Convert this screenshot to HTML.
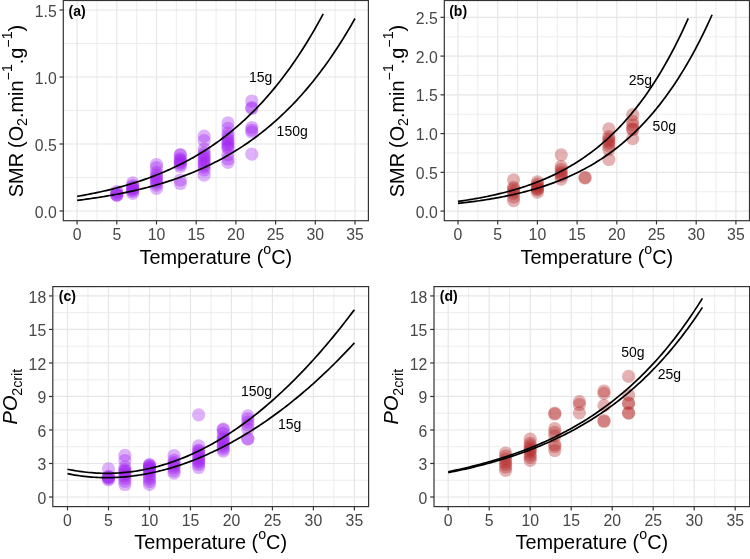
<!DOCTYPE html>
<html><head><meta charset="utf-8"><style>
html,body{margin:0;padding:0;background:#fff;}
svg{display:block;font-family:"Liberation Sans", sans-serif;will-change:transform;}
</style></head><body>
<svg width="750" height="559" viewBox="0 0 750 559">
<rect width="750" height="559" fill="#fff"/>
<rect x="63.3" y="0.5" width="305.09999999999997" height="220.2" fill="#fff"/>
<line x1="96.95" y1="0.5" x2="96.95" y2="220.7" stroke="#EAEAEA" stroke-width="0.9"/>
<line x1="136.65" y1="0.5" x2="136.65" y2="220.7" stroke="#EAEAEA" stroke-width="0.9"/>
<line x1="176.35" y1="0.5" x2="176.35" y2="220.7" stroke="#EAEAEA" stroke-width="0.9"/>
<line x1="216.05" y1="0.5" x2="216.05" y2="220.7" stroke="#EAEAEA" stroke-width="0.9"/>
<line x1="255.75" y1="0.5" x2="255.75" y2="220.7" stroke="#EAEAEA" stroke-width="0.9"/>
<line x1="295.45" y1="0.5" x2="295.45" y2="220.7" stroke="#EAEAEA" stroke-width="0.9"/>
<line x1="335.15" y1="0.5" x2="335.15" y2="220.7" stroke="#EAEAEA" stroke-width="0.9"/>
<line x1="63.3" y1="177.50" x2="368.4" y2="177.50" stroke="#EAEAEA" stroke-width="0.9"/>
<line x1="63.3" y1="110.50" x2="368.4" y2="110.50" stroke="#EAEAEA" stroke-width="0.9"/>
<line x1="63.3" y1="43.50" x2="368.4" y2="43.50" stroke="#EAEAEA" stroke-width="0.9"/>
<line x1="77.10" y1="0.5" x2="77.10" y2="220.7" stroke="#E6E6E6" stroke-width="1.2"/>
<line x1="116.80" y1="0.5" x2="116.80" y2="220.7" stroke="#E6E6E6" stroke-width="1.2"/>
<line x1="156.50" y1="0.5" x2="156.50" y2="220.7" stroke="#E6E6E6" stroke-width="1.2"/>
<line x1="196.20" y1="0.5" x2="196.20" y2="220.7" stroke="#E6E6E6" stroke-width="1.2"/>
<line x1="235.90" y1="0.5" x2="235.90" y2="220.7" stroke="#E6E6E6" stroke-width="1.2"/>
<line x1="275.60" y1="0.5" x2="275.60" y2="220.7" stroke="#E6E6E6" stroke-width="1.2"/>
<line x1="315.30" y1="0.5" x2="315.30" y2="220.7" stroke="#E6E6E6" stroke-width="1.2"/>
<line x1="355.00" y1="0.5" x2="355.00" y2="220.7" stroke="#E6E6E6" stroke-width="1.2"/>
<line x1="63.3" y1="211.00" x2="368.4" y2="211.00" stroke="#E6E6E6" stroke-width="1.2"/>
<line x1="63.3" y1="144.00" x2="368.4" y2="144.00" stroke="#E6E6E6" stroke-width="1.2"/>
<line x1="63.3" y1="77.00" x2="368.4" y2="77.00" stroke="#E6E6E6" stroke-width="1.2"/>
<line x1="63.3" y1="10.00" x2="368.4" y2="10.00" stroke="#E6E6E6" stroke-width="1.2"/>
<circle cx="116.80" cy="191.50" r="6.6" fill="#A020F0" fill-opacity="0.35"/>
<circle cx="116.80" cy="193.10" r="6.6" fill="#A020F0" fill-opacity="0.35"/>
<circle cx="116.80" cy="194.50" r="6.6" fill="#A020F0" fill-opacity="0.35"/>
<circle cx="116.80" cy="195.00" r="6.6" fill="#A020F0" fill-opacity="0.35"/>
<circle cx="116.80" cy="195.30" r="6.6" fill="#A020F0" fill-opacity="0.35"/>
<circle cx="132.68" cy="182.90" r="6.6" fill="#A020F0" fill-opacity="0.35"/>
<circle cx="132.68" cy="185.50" r="6.6" fill="#A020F0" fill-opacity="0.35"/>
<circle cx="132.68" cy="187.00" r="6.6" fill="#A020F0" fill-opacity="0.35"/>
<circle cx="132.68" cy="188.00" r="6.6" fill="#A020F0" fill-opacity="0.35"/>
<circle cx="132.68" cy="189.00" r="6.6" fill="#A020F0" fill-opacity="0.35"/>
<circle cx="132.68" cy="190.00" r="6.6" fill="#A020F0" fill-opacity="0.35"/>
<circle cx="132.68" cy="191.40" r="6.6" fill="#A020F0" fill-opacity="0.35"/>
<circle cx="132.68" cy="193.40" r="6.6" fill="#A020F0" fill-opacity="0.35"/>
<circle cx="156.50" cy="164.50" r="6.6" fill="#A020F0" fill-opacity="0.35"/>
<circle cx="156.50" cy="167.70" r="6.6" fill="#A020F0" fill-opacity="0.35"/>
<circle cx="156.50" cy="172.40" r="6.6" fill="#A020F0" fill-opacity="0.35"/>
<circle cx="156.50" cy="175.00" r="6.6" fill="#A020F0" fill-opacity="0.35"/>
<circle cx="156.50" cy="177.00" r="6.6" fill="#A020F0" fill-opacity="0.35"/>
<circle cx="156.50" cy="179.00" r="6.6" fill="#A020F0" fill-opacity="0.35"/>
<circle cx="156.50" cy="181.00" r="6.6" fill="#A020F0" fill-opacity="0.35"/>
<circle cx="156.50" cy="182.80" r="6.6" fill="#A020F0" fill-opacity="0.35"/>
<circle cx="156.50" cy="185.20" r="6.6" fill="#A020F0" fill-opacity="0.35"/>
<circle cx="156.50" cy="188.40" r="6.6" fill="#A020F0" fill-opacity="0.35"/>
<circle cx="180.32" cy="154.60" r="6.6" fill="#A020F0" fill-opacity="0.35"/>
<circle cx="180.32" cy="155.00" r="6.6" fill="#A020F0" fill-opacity="0.35"/>
<circle cx="180.32" cy="158.80" r="6.6" fill="#A020F0" fill-opacity="0.35"/>
<circle cx="180.32" cy="160.00" r="6.6" fill="#A020F0" fill-opacity="0.35"/>
<circle cx="180.32" cy="161.50" r="6.6" fill="#A020F0" fill-opacity="0.35"/>
<circle cx="180.32" cy="163.00" r="6.6" fill="#A020F0" fill-opacity="0.35"/>
<circle cx="180.32" cy="164.50" r="6.6" fill="#A020F0" fill-opacity="0.35"/>
<circle cx="180.32" cy="166.50" r="6.6" fill="#A020F0" fill-opacity="0.35"/>
<circle cx="180.32" cy="180.00" r="6.6" fill="#A020F0" fill-opacity="0.35"/>
<circle cx="180.32" cy="183.50" r="6.6" fill="#A020F0" fill-opacity="0.35"/>
<circle cx="204.14" cy="136.20" r="6.6" fill="#A020F0" fill-opacity="0.35"/>
<circle cx="204.14" cy="140.60" r="6.6" fill="#A020F0" fill-opacity="0.35"/>
<circle cx="204.14" cy="149.00" r="6.6" fill="#A020F0" fill-opacity="0.35"/>
<circle cx="204.14" cy="152.80" r="6.6" fill="#A020F0" fill-opacity="0.35"/>
<circle cx="204.14" cy="155.00" r="6.6" fill="#A020F0" fill-opacity="0.35"/>
<circle cx="204.14" cy="157.00" r="6.6" fill="#A020F0" fill-opacity="0.35"/>
<circle cx="204.14" cy="159.00" r="6.6" fill="#A020F0" fill-opacity="0.35"/>
<circle cx="204.14" cy="161.00" r="6.6" fill="#A020F0" fill-opacity="0.35"/>
<circle cx="204.14" cy="163.00" r="6.6" fill="#A020F0" fill-opacity="0.35"/>
<circle cx="204.14" cy="165.00" r="6.6" fill="#A020F0" fill-opacity="0.35"/>
<circle cx="204.14" cy="167.00" r="6.6" fill="#A020F0" fill-opacity="0.35"/>
<circle cx="204.14" cy="170.00" r="6.6" fill="#A020F0" fill-opacity="0.35"/>
<circle cx="204.14" cy="175.20" r="6.6" fill="#A020F0" fill-opacity="0.35"/>
<circle cx="227.96" cy="122.90" r="6.6" fill="#A020F0" fill-opacity="0.35"/>
<circle cx="227.96" cy="128.30" r="6.6" fill="#A020F0" fill-opacity="0.35"/>
<circle cx="227.96" cy="133.00" r="6.6" fill="#A020F0" fill-opacity="0.35"/>
<circle cx="227.96" cy="136.00" r="6.6" fill="#A020F0" fill-opacity="0.35"/>
<circle cx="227.96" cy="139.00" r="6.6" fill="#A020F0" fill-opacity="0.35"/>
<circle cx="227.96" cy="141.00" r="6.6" fill="#A020F0" fill-opacity="0.35"/>
<circle cx="227.96" cy="143.00" r="6.6" fill="#A020F0" fill-opacity="0.35"/>
<circle cx="227.96" cy="145.00" r="6.6" fill="#A020F0" fill-opacity="0.35"/>
<circle cx="227.96" cy="147.00" r="6.6" fill="#A020F0" fill-opacity="0.35"/>
<circle cx="227.96" cy="148.30" r="6.6" fill="#A020F0" fill-opacity="0.35"/>
<circle cx="227.96" cy="154.80" r="6.6" fill="#A020F0" fill-opacity="0.35"/>
<circle cx="227.96" cy="159.00" r="6.6" fill="#A020F0" fill-opacity="0.35"/>
<circle cx="227.96" cy="162.30" r="6.6" fill="#A020F0" fill-opacity="0.35"/>
<circle cx="251.78" cy="101.00" r="6.6" fill="#A020F0" fill-opacity="0.35"/>
<circle cx="251.78" cy="107.50" r="6.6" fill="#A020F0" fill-opacity="0.35"/>
<circle cx="251.78" cy="108.50" r="6.6" fill="#A020F0" fill-opacity="0.35"/>
<circle cx="251.78" cy="127.50" r="6.6" fill="#A020F0" fill-opacity="0.35"/>
<circle cx="251.78" cy="130.00" r="6.6" fill="#A020F0" fill-opacity="0.35"/>
<circle cx="251.78" cy="132.00" r="6.6" fill="#A020F0" fill-opacity="0.35"/>
<circle cx="251.78" cy="154.20" r="6.6" fill="#A020F0" fill-opacity="0.35"/>
<path d="M77.10,196.39 L79.17,196.03 L81.24,195.67 L83.31,195.29 L85.37,194.91 L87.44,194.51 L89.51,194.11 L91.58,193.70 L93.65,193.28 L95.72,192.85 L97.78,192.41 L99.85,191.96 L101.92,191.50 L103.99,191.03 L106.06,190.55 L108.13,190.06 L110.19,189.56 L112.26,189.05 L114.33,188.53 L116.40,187.99 L118.47,187.44 L120.54,186.89 L122.60,186.32 L124.67,185.73 L126.74,185.14 L128.81,184.53 L130.88,183.91 L132.95,183.27 L135.02,182.62 L137.08,181.96 L139.15,181.28 L141.22,180.59 L143.29,179.89 L145.36,179.16 L147.43,178.43 L149.49,177.68 L151.56,176.91 L153.63,176.12 L155.70,175.32 L157.77,174.51 L159.84,173.67 L161.90,172.82 L163.97,171.95 L166.04,171.06 L168.11,170.15 L170.18,169.23 L172.25,168.28 L174.31,167.32 L176.38,166.33 L178.45,165.33 L180.52,164.30 L182.59,163.26 L184.66,162.19 L186.73,161.10 L188.79,159.99 L190.86,158.85 L192.93,157.69 L195.00,156.51 L197.07,155.31 L199.14,154.08 L201.20,152.82 L203.27,151.54 L205.34,150.23 L207.41,148.90 L209.48,147.54 L211.55,146.16 L213.61,144.74 L215.68,143.30 L217.75,141.83 L219.82,140.33 L221.89,138.80 L223.96,137.24 L226.03,135.65 L228.09,134.02 L230.16,132.37 L232.23,130.68 L234.30,128.96 L236.37,127.21 L238.44,125.42 L240.50,123.60 L242.57,121.74 L244.64,119.84 L246.71,117.91 L248.78,115.94 L250.85,113.94 L252.91,111.89 L254.98,109.80 L257.05,107.68 L259.12,105.51 L261.19,103.31 L263.26,101.06 L265.32,98.76 L267.39,96.43 L269.46,94.05 L271.53,91.62 L273.60,89.15 L275.67,86.63 L277.74,84.07 L279.80,81.45 L281.87,78.79 L283.94,76.07 L286.01,73.31 L288.08,70.49 L290.15,67.63 L292.21,64.70 L294.28,61.73 L296.35,58.70 L298.42,55.61 L300.49,52.47 L302.56,49.26 L304.62,46.00 L306.69,42.68 L308.76,39.30 L310.83,35.85 L312.90,32.34 L314.97,28.77 L317.03,25.14 L319.10,21.43 L321.17,17.66 L323.24,13.83" fill="none" stroke="#000" stroke-width="1.7"/>
<path d="M77.10,200.41 L79.44,200.12 L81.77,199.82 L84.11,199.51 L86.44,199.19 L88.78,198.86 L91.11,198.53 L93.45,198.19 L95.78,197.83 L98.12,197.47 L100.45,197.10 L102.79,196.73 L105.12,196.34 L107.46,195.94 L109.79,195.53 L112.13,195.11 L114.46,194.69 L116.80,194.25 L119.14,193.80 L121.47,193.34 L123.81,192.86 L126.14,192.38 L128.48,191.89 L130.81,191.38 L133.15,190.86 L135.48,190.33 L137.82,189.78 L140.15,189.22 L142.49,188.65 L144.82,188.06 L147.16,187.46 L149.49,186.85 L151.83,186.22 L154.16,185.57 L156.50,184.91 L158.84,184.24 L161.17,183.55 L163.51,182.84 L165.84,182.12 L168.18,181.37 L170.51,180.62 L172.85,179.84 L175.18,179.04 L177.52,178.23 L179.85,177.40 L182.19,176.55 L184.52,175.67 L186.86,174.78 L189.19,173.87 L191.53,172.94 L193.86,171.98 L196.20,171.00 L198.54,170.00 L200.87,168.98 L203.21,167.94 L205.54,166.87 L207.88,165.77 L210.21,164.65 L212.55,163.51 L214.88,162.34 L217.22,161.14 L219.55,159.92 L221.89,158.67 L224.22,157.39 L226.56,156.08 L228.89,154.75 L231.23,153.38 L233.56,151.99 L235.90,150.56 L238.24,149.10 L240.57,147.61 L242.91,146.09 L245.24,144.53 L247.58,142.94 L249.91,141.31 L252.25,139.65 L254.58,137.95 L256.92,136.22 L259.25,134.44 L261.59,132.63 L263.92,130.78 L266.26,128.89 L268.59,126.96 L270.93,124.99 L273.26,122.98 L275.60,120.92 L277.94,118.82 L280.27,116.67 L282.61,114.48 L284.94,112.25 L287.28,109.96 L289.61,107.63 L291.95,105.25 L294.28,102.81 L296.62,100.33 L298.95,97.79 L301.29,95.21 L303.62,92.56 L305.96,89.87 L308.29,87.11 L310.63,84.30 L312.96,81.43 L315.30,78.51 L317.64,75.52 L319.97,72.47 L322.31,69.36 L324.64,66.18 L326.98,62.94 L329.31,59.63 L331.65,56.26 L333.98,52.82 L336.32,49.31 L338.65,45.72 L340.99,42.07 L343.32,38.34 L345.66,34.53 L347.99,30.65 L350.33,26.70 L352.66,22.66 L355.00,18.54" fill="none" stroke="#000" stroke-width="1.7"/>
<rect x="63.3" y="0.5" width="305.09999999999997" height="220.2" fill="none" stroke="#333333" stroke-width="1.2"/>
<line x1="77.10" y1="220.7" x2="77.10" y2="224.5" stroke="#333333" stroke-width="1.2"/>
<text x="77.10" y="239.90" text-anchor="middle" font-size="15.8" fill="#474747">0</text>
<line x1="116.80" y1="220.7" x2="116.80" y2="224.5" stroke="#333333" stroke-width="1.2"/>
<text x="116.80" y="239.90" text-anchor="middle" font-size="15.8" fill="#474747">5</text>
<line x1="156.50" y1="220.7" x2="156.50" y2="224.5" stroke="#333333" stroke-width="1.2"/>
<text x="156.50" y="239.90" text-anchor="middle" font-size="15.8" fill="#474747">10</text>
<line x1="196.20" y1="220.7" x2="196.20" y2="224.5" stroke="#333333" stroke-width="1.2"/>
<text x="196.20" y="239.90" text-anchor="middle" font-size="15.8" fill="#474747">15</text>
<line x1="235.90" y1="220.7" x2="235.90" y2="224.5" stroke="#333333" stroke-width="1.2"/>
<text x="235.90" y="239.90" text-anchor="middle" font-size="15.8" fill="#474747">20</text>
<line x1="275.60" y1="220.7" x2="275.60" y2="224.5" stroke="#333333" stroke-width="1.2"/>
<text x="275.60" y="239.90" text-anchor="middle" font-size="15.8" fill="#474747">25</text>
<line x1="315.30" y1="220.7" x2="315.30" y2="224.5" stroke="#333333" stroke-width="1.2"/>
<text x="315.30" y="239.90" text-anchor="middle" font-size="15.8" fill="#474747">30</text>
<line x1="355.00" y1="220.7" x2="355.00" y2="224.5" stroke="#333333" stroke-width="1.2"/>
<text x="355.00" y="239.90" text-anchor="middle" font-size="15.8" fill="#474747">35</text>
<line x1="59.5" y1="211.00" x2="63.3" y2="211.00" stroke="#333333" stroke-width="1.2"/>
<text x="56.70" y="217.60" text-anchor="end" font-size="15.8" fill="#474747">0.0</text>
<line x1="59.5" y1="144.00" x2="63.3" y2="144.00" stroke="#333333" stroke-width="1.2"/>
<text x="56.70" y="150.60" text-anchor="end" font-size="15.8" fill="#474747">0.5</text>
<line x1="59.5" y1="77.00" x2="63.3" y2="77.00" stroke="#333333" stroke-width="1.2"/>
<text x="56.70" y="83.60" text-anchor="end" font-size="15.8" fill="#474747">1.0</text>
<line x1="59.5" y1="10.00" x2="63.3" y2="10.00" stroke="#333333" stroke-width="1.2"/>
<text x="56.70" y="16.60" text-anchor="end" font-size="15.8" fill="#474747">1.5</text>
<rect x="444.3" y="0.5" width="305.2" height="220.2" fill="#fff"/>
<line x1="477.85" y1="0.5" x2="477.85" y2="220.7" stroke="#EAEAEA" stroke-width="0.9"/>
<line x1="517.55" y1="0.5" x2="517.55" y2="220.7" stroke="#EAEAEA" stroke-width="0.9"/>
<line x1="557.25" y1="0.5" x2="557.25" y2="220.7" stroke="#EAEAEA" stroke-width="0.9"/>
<line x1="596.95" y1="0.5" x2="596.95" y2="220.7" stroke="#EAEAEA" stroke-width="0.9"/>
<line x1="636.65" y1="0.5" x2="636.65" y2="220.7" stroke="#EAEAEA" stroke-width="0.9"/>
<line x1="676.35" y1="0.5" x2="676.35" y2="220.7" stroke="#EAEAEA" stroke-width="0.9"/>
<line x1="716.05" y1="0.5" x2="716.05" y2="220.7" stroke="#EAEAEA" stroke-width="0.9"/>
<line x1="444.3" y1="191.72" x2="749.5" y2="191.72" stroke="#EAEAEA" stroke-width="0.9"/>
<line x1="444.3" y1="152.97" x2="749.5" y2="152.97" stroke="#EAEAEA" stroke-width="0.9"/>
<line x1="444.3" y1="114.22" x2="749.5" y2="114.22" stroke="#EAEAEA" stroke-width="0.9"/>
<line x1="444.3" y1="75.47" x2="749.5" y2="75.47" stroke="#EAEAEA" stroke-width="0.9"/>
<line x1="444.3" y1="36.72" x2="749.5" y2="36.72" stroke="#EAEAEA" stroke-width="0.9"/>
<line x1="458.00" y1="0.5" x2="458.00" y2="220.7" stroke="#E6E6E6" stroke-width="1.2"/>
<line x1="497.70" y1="0.5" x2="497.70" y2="220.7" stroke="#E6E6E6" stroke-width="1.2"/>
<line x1="537.40" y1="0.5" x2="537.40" y2="220.7" stroke="#E6E6E6" stroke-width="1.2"/>
<line x1="577.10" y1="0.5" x2="577.10" y2="220.7" stroke="#E6E6E6" stroke-width="1.2"/>
<line x1="616.80" y1="0.5" x2="616.80" y2="220.7" stroke="#E6E6E6" stroke-width="1.2"/>
<line x1="656.50" y1="0.5" x2="656.50" y2="220.7" stroke="#E6E6E6" stroke-width="1.2"/>
<line x1="696.20" y1="0.5" x2="696.20" y2="220.7" stroke="#E6E6E6" stroke-width="1.2"/>
<line x1="735.90" y1="0.5" x2="735.90" y2="220.7" stroke="#E6E6E6" stroke-width="1.2"/>
<line x1="444.3" y1="211.10" x2="749.5" y2="211.10" stroke="#E6E6E6" stroke-width="1.2"/>
<line x1="444.3" y1="172.35" x2="749.5" y2="172.35" stroke="#E6E6E6" stroke-width="1.2"/>
<line x1="444.3" y1="133.60" x2="749.5" y2="133.60" stroke="#E6E6E6" stroke-width="1.2"/>
<line x1="444.3" y1="94.85" x2="749.5" y2="94.85" stroke="#E6E6E6" stroke-width="1.2"/>
<line x1="444.3" y1="56.10" x2="749.5" y2="56.10" stroke="#E6E6E6" stroke-width="1.2"/>
<line x1="444.3" y1="17.35" x2="749.5" y2="17.35" stroke="#E6E6E6" stroke-width="1.2"/>
<circle cx="513.58" cy="179.80" r="6.6" fill="#B22222" fill-opacity="0.35"/>
<circle cx="513.58" cy="187.30" r="6.6" fill="#B22222" fill-opacity="0.35"/>
<circle cx="513.58" cy="189.00" r="6.6" fill="#B22222" fill-opacity="0.35"/>
<circle cx="513.58" cy="191.00" r="6.6" fill="#B22222" fill-opacity="0.35"/>
<circle cx="513.58" cy="193.40" r="6.6" fill="#B22222" fill-opacity="0.35"/>
<circle cx="513.58" cy="197.00" r="6.6" fill="#B22222" fill-opacity="0.35"/>
<circle cx="513.58" cy="200.60" r="6.6" fill="#B22222" fill-opacity="0.35"/>
<circle cx="537.40" cy="181.90" r="6.6" fill="#B22222" fill-opacity="0.35"/>
<circle cx="537.40" cy="184.10" r="6.6" fill="#B22222" fill-opacity="0.35"/>
<circle cx="537.40" cy="186.00" r="6.6" fill="#B22222" fill-opacity="0.35"/>
<circle cx="537.40" cy="187.50" r="6.6" fill="#B22222" fill-opacity="0.35"/>
<circle cx="537.40" cy="189.00" r="6.6" fill="#B22222" fill-opacity="0.35"/>
<circle cx="537.40" cy="189.70" r="6.6" fill="#B22222" fill-opacity="0.35"/>
<circle cx="537.40" cy="192.20" r="6.6" fill="#B22222" fill-opacity="0.35"/>
<circle cx="561.22" cy="154.80" r="6.6" fill="#B22222" fill-opacity="0.35"/>
<circle cx="561.22" cy="166.50" r="6.6" fill="#B22222" fill-opacity="0.35"/>
<circle cx="561.22" cy="169.30" r="6.6" fill="#B22222" fill-opacity="0.35"/>
<circle cx="561.22" cy="172.00" r="6.6" fill="#B22222" fill-opacity="0.35"/>
<circle cx="561.22" cy="174.00" r="6.6" fill="#B22222" fill-opacity="0.35"/>
<circle cx="561.22" cy="176.20" r="6.6" fill="#B22222" fill-opacity="0.35"/>
<circle cx="561.22" cy="179.10" r="6.6" fill="#B22222" fill-opacity="0.35"/>
<circle cx="585.04" cy="177.30" r="6.6" fill="#B22222" fill-opacity="0.35"/>
<circle cx="585.04" cy="178.00" r="6.6" fill="#B22222" fill-opacity="0.35"/>
<circle cx="608.86" cy="128.80" r="6.6" fill="#B22222" fill-opacity="0.35"/>
<circle cx="608.86" cy="136.70" r="6.6" fill="#B22222" fill-opacity="0.35"/>
<circle cx="608.86" cy="139.00" r="6.6" fill="#B22222" fill-opacity="0.35"/>
<circle cx="608.86" cy="141.00" r="6.6" fill="#B22222" fill-opacity="0.35"/>
<circle cx="608.86" cy="143.00" r="6.6" fill="#B22222" fill-opacity="0.35"/>
<circle cx="608.86" cy="145.90" r="6.6" fill="#B22222" fill-opacity="0.35"/>
<circle cx="608.86" cy="149.50" r="6.6" fill="#B22222" fill-opacity="0.35"/>
<circle cx="608.86" cy="159.50" r="6.6" fill="#B22222" fill-opacity="0.35"/>
<circle cx="632.68" cy="114.70" r="6.6" fill="#B22222" fill-opacity="0.35"/>
<circle cx="632.68" cy="121.40" r="6.6" fill="#B22222" fill-opacity="0.35"/>
<circle cx="632.68" cy="125.00" r="6.6" fill="#B22222" fill-opacity="0.35"/>
<circle cx="632.68" cy="129.00" r="6.6" fill="#B22222" fill-opacity="0.35"/>
<circle cx="632.68" cy="129.50" r="6.6" fill="#B22222" fill-opacity="0.35"/>
<circle cx="632.68" cy="138.60" r="6.6" fill="#B22222" fill-opacity="0.35"/>
<path d="M458.00,201.41 L459.93,201.14 L461.87,200.86 L463.80,200.57 L465.74,200.28 L467.67,199.97 L469.61,199.66 L471.54,199.35 L473.48,199.02 L475.41,198.68 L477.35,198.34 L479.28,197.99 L481.22,197.62 L483.15,197.25 L485.09,196.87 L487.02,196.48 L488.96,196.08 L490.89,195.67 L492.83,195.25 L494.76,194.81 L496.70,194.37 L498.63,193.92 L500.57,193.45 L502.50,192.97 L504.44,192.48 L506.37,191.98 L508.31,191.47 L510.24,190.94 L512.18,190.40 L514.11,189.84 L516.05,189.27 L517.98,188.69 L519.92,188.09 L521.85,187.48 L523.79,186.85 L525.72,186.21 L527.66,185.55 L529.59,184.88 L531.53,184.19 L533.46,183.48 L535.40,182.75 L537.33,182.01 L539.27,181.24 L541.20,180.46 L543.14,179.66 L545.07,178.85 L547.01,178.01 L548.94,177.15 L550.88,176.27 L552.81,175.37 L554.75,174.44 L556.68,173.50 L558.62,172.53 L560.55,171.54 L562.49,170.52 L564.42,169.49 L566.36,168.42 L568.29,167.33 L570.23,166.22 L572.16,165.08 L574.10,163.91 L576.03,162.71 L577.97,161.49 L579.90,160.24 L581.84,158.95 L583.77,157.64 L585.71,156.30 L587.64,154.92 L589.58,153.52 L591.51,152.08 L593.45,150.60 L595.38,149.10 L597.32,147.55 L599.25,145.98 L601.19,144.36 L603.12,142.71 L605.06,141.02 L606.99,139.29 L608.93,137.52 L610.86,135.72 L612.80,133.87 L614.73,131.97 L616.67,130.04 L618.60,128.06 L620.54,126.04 L622.47,123.97 L624.41,121.85 L626.34,119.68 L628.28,117.47 L630.21,115.21 L632.15,112.89 L634.08,110.53 L636.02,108.11 L637.95,105.64 L639.89,103.11 L641.82,100.53 L643.76,97.88 L645.69,95.18 L647.63,92.42 L649.56,89.60 L651.50,86.72 L653.43,83.77 L655.37,80.76 L657.30,77.68 L659.24,74.54 L661.17,71.33 L663.11,68.04 L665.04,64.69 L666.98,61.26 L668.91,57.75 L670.85,54.17 L672.78,50.52 L674.72,46.78 L676.65,42.96 L678.59,39.07 L680.52,35.08 L682.46,31.01 L684.39,26.86 L686.33,22.61 L688.26,18.28" fill="none" stroke="#000" stroke-width="1.7"/>
<path d="M458.00,203.43 L460.14,203.19 L462.27,202.95 L464.41,202.70 L466.54,202.44 L468.68,202.17 L470.81,201.90 L472.95,201.62 L475.08,201.33 L477.22,201.03 L479.35,200.73 L481.49,200.41 L483.62,200.09 L485.76,199.76 L487.89,199.42 L490.03,199.07 L492.16,198.71 L494.30,198.34 L496.43,197.96 L498.57,197.56 L500.70,197.16 L502.84,196.75 L504.97,196.32 L507.11,195.89 L509.24,195.44 L511.38,194.98 L513.51,194.50 L515.65,194.02 L517.78,193.52 L519.92,193.00 L522.05,192.47 L524.19,191.93 L526.32,191.38 L528.46,190.80 L530.59,190.22 L532.73,189.61 L534.86,188.99 L537.00,188.36 L539.13,187.70 L541.27,187.03 L543.41,186.35 L545.54,185.64 L547.68,184.91 L549.81,184.17 L551.95,183.40 L554.08,182.62 L556.22,181.81 L558.35,180.99 L560.49,180.14 L562.62,179.27 L564.76,178.38 L566.89,177.46 L569.03,176.52 L571.16,175.55 L573.30,174.57 L575.43,173.55 L577.57,172.51 L579.70,171.44 L581.84,170.34 L583.97,169.22 L586.11,168.07 L588.24,166.88 L590.38,165.67 L592.51,164.43 L594.65,163.15 L596.78,161.84 L598.92,160.50 L601.05,159.13 L603.19,157.72 L605.32,156.27 L607.46,154.79 L609.59,153.27 L611.73,151.71 L613.86,150.12 L616.00,148.48 L618.13,146.81 L620.27,145.09 L622.40,143.33 L624.54,141.52 L626.67,139.68 L628.81,137.78 L630.95,135.84 L633.08,133.85 L635.22,131.81 L637.35,129.73 L639.49,127.59 L641.62,125.40 L643.76,123.15 L645.89,120.85 L648.03,118.50 L650.16,116.09 L652.30,113.62 L654.43,111.09 L656.57,108.50 L658.70,105.85 L660.84,103.13 L662.97,100.35 L665.11,97.50 L667.24,94.59 L669.38,91.60 L671.51,88.55 L673.65,85.42 L675.78,82.22 L677.92,78.94 L680.05,75.58 L682.19,72.15 L684.32,68.64 L686.46,65.04 L688.59,61.36 L690.73,57.59 L692.86,53.74 L695.00,49.79 L697.13,45.76 L699.27,41.63 L701.40,37.40 L703.54,33.08 L705.67,28.65 L707.81,24.13 L709.94,19.50 L712.08,14.77" fill="none" stroke="#000" stroke-width="1.7"/>
<rect x="444.3" y="0.5" width="305.2" height="220.2" fill="none" stroke="#333333" stroke-width="1.2"/>
<line x1="458.00" y1="220.7" x2="458.00" y2="224.5" stroke="#333333" stroke-width="1.2"/>
<text x="458.00" y="239.90" text-anchor="middle" font-size="15.8" fill="#474747">0</text>
<line x1="497.70" y1="220.7" x2="497.70" y2="224.5" stroke="#333333" stroke-width="1.2"/>
<text x="497.70" y="239.90" text-anchor="middle" font-size="15.8" fill="#474747">5</text>
<line x1="537.40" y1="220.7" x2="537.40" y2="224.5" stroke="#333333" stroke-width="1.2"/>
<text x="537.40" y="239.90" text-anchor="middle" font-size="15.8" fill="#474747">10</text>
<line x1="577.10" y1="220.7" x2="577.10" y2="224.5" stroke="#333333" stroke-width="1.2"/>
<text x="577.10" y="239.90" text-anchor="middle" font-size="15.8" fill="#474747">15</text>
<line x1="616.80" y1="220.7" x2="616.80" y2="224.5" stroke="#333333" stroke-width="1.2"/>
<text x="616.80" y="239.90" text-anchor="middle" font-size="15.8" fill="#474747">20</text>
<line x1="656.50" y1="220.7" x2="656.50" y2="224.5" stroke="#333333" stroke-width="1.2"/>
<text x="656.50" y="239.90" text-anchor="middle" font-size="15.8" fill="#474747">25</text>
<line x1="696.20" y1="220.7" x2="696.20" y2="224.5" stroke="#333333" stroke-width="1.2"/>
<text x="696.20" y="239.90" text-anchor="middle" font-size="15.8" fill="#474747">30</text>
<line x1="735.90" y1="220.7" x2="735.90" y2="224.5" stroke="#333333" stroke-width="1.2"/>
<text x="735.90" y="239.90" text-anchor="middle" font-size="15.8" fill="#474747">35</text>
<line x1="440.5" y1="211.10" x2="444.3" y2="211.10" stroke="#333333" stroke-width="1.2"/>
<text x="437.70" y="217.70" text-anchor="end" font-size="15.8" fill="#474747">0.0</text>
<line x1="440.5" y1="172.35" x2="444.3" y2="172.35" stroke="#333333" stroke-width="1.2"/>
<text x="437.70" y="178.95" text-anchor="end" font-size="15.8" fill="#474747">0.5</text>
<line x1="440.5" y1="133.60" x2="444.3" y2="133.60" stroke="#333333" stroke-width="1.2"/>
<text x="437.70" y="140.20" text-anchor="end" font-size="15.8" fill="#474747">1.0</text>
<line x1="440.5" y1="94.85" x2="444.3" y2="94.85" stroke="#333333" stroke-width="1.2"/>
<text x="437.70" y="101.45" text-anchor="end" font-size="15.8" fill="#474747">1.5</text>
<line x1="440.5" y1="56.10" x2="444.3" y2="56.10" stroke="#333333" stroke-width="1.2"/>
<text x="437.70" y="62.70" text-anchor="end" font-size="15.8" fill="#474747">2.0</text>
<line x1="440.5" y1="17.35" x2="444.3" y2="17.35" stroke="#333333" stroke-width="1.2"/>
<text x="437.70" y="23.95" text-anchor="end" font-size="15.8" fill="#474747">2.5</text>
<rect x="52.8" y="286.6" width="315.8" height="220.0" fill="#fff"/>
<line x1="87.99" y1="286.6" x2="87.99" y2="506.6" stroke="#EAEAEA" stroke-width="0.9"/>
<line x1="128.98" y1="286.6" x2="128.98" y2="506.6" stroke="#EAEAEA" stroke-width="0.9"/>
<line x1="169.96" y1="286.6" x2="169.96" y2="506.6" stroke="#EAEAEA" stroke-width="0.9"/>
<line x1="210.95" y1="286.6" x2="210.95" y2="506.6" stroke="#EAEAEA" stroke-width="0.9"/>
<line x1="251.93" y1="286.6" x2="251.93" y2="506.6" stroke="#EAEAEA" stroke-width="0.9"/>
<line x1="292.92" y1="286.6" x2="292.92" y2="506.6" stroke="#EAEAEA" stroke-width="0.9"/>
<line x1="333.90" y1="286.6" x2="333.90" y2="506.6" stroke="#EAEAEA" stroke-width="0.9"/>
<line x1="52.8" y1="480.25" x2="368.6" y2="480.25" stroke="#EAEAEA" stroke-width="0.9"/>
<line x1="52.8" y1="446.74" x2="368.6" y2="446.74" stroke="#EAEAEA" stroke-width="0.9"/>
<line x1="52.8" y1="413.23" x2="368.6" y2="413.23" stroke="#EAEAEA" stroke-width="0.9"/>
<line x1="52.8" y1="379.72" x2="368.6" y2="379.72" stroke="#EAEAEA" stroke-width="0.9"/>
<line x1="52.8" y1="346.21" x2="368.6" y2="346.21" stroke="#EAEAEA" stroke-width="0.9"/>
<line x1="52.8" y1="312.69" x2="368.6" y2="312.69" stroke="#EAEAEA" stroke-width="0.9"/>
<line x1="67.50" y1="286.6" x2="67.50" y2="506.6" stroke="#E6E6E6" stroke-width="1.2"/>
<line x1="108.48" y1="286.6" x2="108.48" y2="506.6" stroke="#E6E6E6" stroke-width="1.2"/>
<line x1="149.47" y1="286.6" x2="149.47" y2="506.6" stroke="#E6E6E6" stroke-width="1.2"/>
<line x1="190.45" y1="286.6" x2="190.45" y2="506.6" stroke="#E6E6E6" stroke-width="1.2"/>
<line x1="231.44" y1="286.6" x2="231.44" y2="506.6" stroke="#E6E6E6" stroke-width="1.2"/>
<line x1="272.42" y1="286.6" x2="272.42" y2="506.6" stroke="#E6E6E6" stroke-width="1.2"/>
<line x1="313.41" y1="286.6" x2="313.41" y2="506.6" stroke="#E6E6E6" stroke-width="1.2"/>
<line x1="354.39" y1="286.6" x2="354.39" y2="506.6" stroke="#E6E6E6" stroke-width="1.2"/>
<line x1="52.8" y1="497.00" x2="368.6" y2="497.00" stroke="#E6E6E6" stroke-width="1.2"/>
<line x1="52.8" y1="463.49" x2="368.6" y2="463.49" stroke="#E6E6E6" stroke-width="1.2"/>
<line x1="52.8" y1="429.98" x2="368.6" y2="429.98" stroke="#E6E6E6" stroke-width="1.2"/>
<line x1="52.8" y1="396.47" x2="368.6" y2="396.47" stroke="#E6E6E6" stroke-width="1.2"/>
<line x1="52.8" y1="362.96" x2="368.6" y2="362.96" stroke="#E6E6E6" stroke-width="1.2"/>
<line x1="52.8" y1="329.45" x2="368.6" y2="329.45" stroke="#E6E6E6" stroke-width="1.2"/>
<line x1="52.8" y1="295.94" x2="368.6" y2="295.94" stroke="#E6E6E6" stroke-width="1.2"/>
<circle cx="108.48" cy="468.80" r="6.6" fill="#A020F0" fill-opacity="0.35"/>
<circle cx="108.48" cy="476.30" r="6.6" fill="#A020F0" fill-opacity="0.35"/>
<circle cx="108.48" cy="477.00" r="6.6" fill="#A020F0" fill-opacity="0.35"/>
<circle cx="108.48" cy="477.50" r="6.6" fill="#A020F0" fill-opacity="0.35"/>
<circle cx="108.48" cy="478.50" r="6.6" fill="#A020F0" fill-opacity="0.35"/>
<circle cx="108.48" cy="479.90" r="6.6" fill="#A020F0" fill-opacity="0.35"/>
<circle cx="124.88" cy="455.30" r="6.6" fill="#A020F0" fill-opacity="0.35"/>
<circle cx="124.88" cy="460.50" r="6.6" fill="#A020F0" fill-opacity="0.35"/>
<circle cx="124.88" cy="467.00" r="6.6" fill="#A020F0" fill-opacity="0.35"/>
<circle cx="124.88" cy="469.80" r="6.6" fill="#A020F0" fill-opacity="0.35"/>
<circle cx="124.88" cy="471.00" r="6.6" fill="#A020F0" fill-opacity="0.35"/>
<circle cx="124.88" cy="472.00" r="6.6" fill="#A020F0" fill-opacity="0.35"/>
<circle cx="124.88" cy="474.00" r="6.6" fill="#A020F0" fill-opacity="0.35"/>
<circle cx="124.88" cy="476.00" r="6.6" fill="#A020F0" fill-opacity="0.35"/>
<circle cx="124.88" cy="478.50" r="6.6" fill="#A020F0" fill-opacity="0.35"/>
<circle cx="124.88" cy="481.30" r="6.6" fill="#A020F0" fill-opacity="0.35"/>
<circle cx="124.88" cy="484.50" r="6.6" fill="#A020F0" fill-opacity="0.35"/>
<circle cx="149.47" cy="464.60" r="6.6" fill="#A020F0" fill-opacity="0.35"/>
<circle cx="149.47" cy="465.00" r="6.6" fill="#A020F0" fill-opacity="0.35"/>
<circle cx="149.47" cy="466.00" r="6.6" fill="#A020F0" fill-opacity="0.35"/>
<circle cx="149.47" cy="467.00" r="6.6" fill="#A020F0" fill-opacity="0.35"/>
<circle cx="149.47" cy="468.00" r="6.6" fill="#A020F0" fill-opacity="0.35"/>
<circle cx="149.47" cy="469.00" r="6.6" fill="#A020F0" fill-opacity="0.35"/>
<circle cx="149.47" cy="470.00" r="6.6" fill="#A020F0" fill-opacity="0.35"/>
<circle cx="149.47" cy="472.00" r="6.6" fill="#A020F0" fill-opacity="0.35"/>
<circle cx="149.47" cy="474.40" r="6.6" fill="#A020F0" fill-opacity="0.35"/>
<circle cx="149.47" cy="476.80" r="6.6" fill="#A020F0" fill-opacity="0.35"/>
<circle cx="149.47" cy="479.20" r="6.6" fill="#A020F0" fill-opacity="0.35"/>
<circle cx="149.47" cy="481.60" r="6.6" fill="#A020F0" fill-opacity="0.35"/>
<circle cx="149.47" cy="484.40" r="6.6" fill="#A020F0" fill-opacity="0.35"/>
<circle cx="174.06" cy="455.50" r="6.6" fill="#A020F0" fill-opacity="0.35"/>
<circle cx="174.06" cy="460.10" r="6.6" fill="#A020F0" fill-opacity="0.35"/>
<circle cx="174.06" cy="462.40" r="6.6" fill="#A020F0" fill-opacity="0.35"/>
<circle cx="174.06" cy="464.00" r="6.6" fill="#A020F0" fill-opacity="0.35"/>
<circle cx="174.06" cy="466.00" r="6.6" fill="#A020F0" fill-opacity="0.35"/>
<circle cx="174.06" cy="468.00" r="6.6" fill="#A020F0" fill-opacity="0.35"/>
<circle cx="174.06" cy="470.80" r="6.6" fill="#A020F0" fill-opacity="0.35"/>
<circle cx="174.06" cy="473.10" r="6.6" fill="#A020F0" fill-opacity="0.35"/>
<circle cx="198.65" cy="414.80" r="6.6" fill="#A020F0" fill-opacity="0.35"/>
<circle cx="198.65" cy="445.90" r="6.6" fill="#A020F0" fill-opacity="0.35"/>
<circle cx="198.65" cy="450.20" r="6.6" fill="#A020F0" fill-opacity="0.35"/>
<circle cx="198.65" cy="451.00" r="6.6" fill="#A020F0" fill-opacity="0.35"/>
<circle cx="198.65" cy="453.00" r="6.6" fill="#A020F0" fill-opacity="0.35"/>
<circle cx="198.65" cy="455.00" r="6.6" fill="#A020F0" fill-opacity="0.35"/>
<circle cx="198.65" cy="457.00" r="6.6" fill="#A020F0" fill-opacity="0.35"/>
<circle cx="198.65" cy="459.00" r="6.6" fill="#A020F0" fill-opacity="0.35"/>
<circle cx="198.65" cy="461.00" r="6.6" fill="#A020F0" fill-opacity="0.35"/>
<circle cx="198.65" cy="462.30" r="6.6" fill="#A020F0" fill-opacity="0.35"/>
<circle cx="198.65" cy="464.50" r="6.6" fill="#A020F0" fill-opacity="0.35"/>
<circle cx="198.65" cy="467.50" r="6.6" fill="#A020F0" fill-opacity="0.35"/>
<circle cx="223.24" cy="429.20" r="6.6" fill="#A020F0" fill-opacity="0.35"/>
<circle cx="223.24" cy="429.80" r="6.6" fill="#A020F0" fill-opacity="0.35"/>
<circle cx="223.24" cy="433.30" r="6.6" fill="#A020F0" fill-opacity="0.35"/>
<circle cx="223.24" cy="437.30" r="6.6" fill="#A020F0" fill-opacity="0.35"/>
<circle cx="223.24" cy="439.00" r="6.6" fill="#A020F0" fill-opacity="0.35"/>
<circle cx="223.24" cy="441.00" r="6.6" fill="#A020F0" fill-opacity="0.35"/>
<circle cx="223.24" cy="443.00" r="6.6" fill="#A020F0" fill-opacity="0.35"/>
<circle cx="223.24" cy="445.00" r="6.6" fill="#A020F0" fill-opacity="0.35"/>
<circle cx="223.24" cy="447.00" r="6.6" fill="#A020F0" fill-opacity="0.35"/>
<circle cx="223.24" cy="449.00" r="6.6" fill="#A020F0" fill-opacity="0.35"/>
<circle cx="223.24" cy="451.10" r="6.6" fill="#A020F0" fill-opacity="0.35"/>
<circle cx="247.83" cy="415.90" r="6.6" fill="#A020F0" fill-opacity="0.35"/>
<circle cx="247.83" cy="418.80" r="6.6" fill="#A020F0" fill-opacity="0.35"/>
<circle cx="247.83" cy="422.20" r="6.6" fill="#A020F0" fill-opacity="0.35"/>
<circle cx="247.83" cy="425.00" r="6.6" fill="#A020F0" fill-opacity="0.35"/>
<circle cx="247.83" cy="429.00" r="6.6" fill="#A020F0" fill-opacity="0.35"/>
<circle cx="247.83" cy="438.50" r="6.6" fill="#A020F0" fill-opacity="0.35"/>
<circle cx="247.83" cy="439.20" r="6.6" fill="#A020F0" fill-opacity="0.35"/>
<path d="M67.50,469.24 L69.91,469.73 L72.32,470.18 L74.73,470.61 L77.14,471.00 L79.55,471.36 L81.97,471.70 L84.38,472.00 L86.79,472.27 L89.20,472.51 L91.61,472.72 L94.02,472.90 L96.43,473.04 L98.84,473.16 L101.25,473.25 L103.66,473.30 L106.07,473.33 L108.48,473.32 L110.90,473.28 L113.31,473.21 L115.72,473.11 L118.13,472.99 L120.54,472.82 L122.95,472.63 L125.36,472.41 L127.77,472.16 L130.18,471.88 L132.59,471.56 L135.00,471.22 L137.42,470.84 L139.83,470.44 L142.24,470.00 L144.65,469.53 L147.06,469.03 L149.47,468.50 L151.88,467.94 L154.29,467.35 L156.70,466.73 L159.11,466.08 L161.52,465.39 L163.94,464.68 L166.35,463.94 L168.76,463.16 L171.17,462.35 L173.58,461.52 L175.99,460.65 L178.40,459.75 L180.81,458.82 L183.22,457.86 L185.63,456.87 L188.04,455.85 L190.45,454.80 L192.87,453.71 L195.28,452.60 L197.69,451.45 L200.10,450.27 L202.51,449.07 L204.92,447.83 L207.33,446.56 L209.74,445.26 L212.15,443.93 L214.56,442.57 L216.97,441.17 L219.39,439.75 L221.80,438.29 L224.21,436.81 L226.62,435.29 L229.03,433.74 L231.44,432.16 L233.85,430.55 L236.26,428.91 L238.67,427.23 L241.08,425.53 L243.49,423.79 L245.91,422.02 L248.32,420.23 L250.73,418.40 L253.14,416.54 L255.55,414.64 L257.96,412.72 L260.37,410.76 L262.78,408.78 L265.19,406.76 L267.60,404.71 L270.01,402.63 L272.42,400.51 L274.84,398.37 L277.25,396.19 L279.66,393.99 L282.07,391.75 L284.48,389.48 L286.89,387.17 L289.30,384.84 L291.71,382.47 L294.12,380.07 L296.53,377.64 L298.94,375.18 L301.36,372.69 L303.77,370.16 L306.18,367.60 L308.59,365.02 L311.00,362.39 L313.41,359.74 L315.82,357.05 L318.23,354.33 L320.64,351.58 L323.05,348.80 L325.46,345.99 L327.88,343.14 L330.29,340.26 L332.70,337.35 L335.11,334.40 L337.52,331.42 L339.93,328.41 L342.34,325.37 L344.75,322.30 L347.16,319.19 L349.57,316.05 L351.98,312.87 L354.39,309.67" fill="none" stroke="#000" stroke-width="1.7"/>
<path d="M67.50,473.70 L69.91,474.18 L72.32,474.62 L74.73,475.04 L77.14,475.42 L79.55,475.78 L81.97,476.10 L84.38,476.39 L86.79,476.65 L89.20,476.88 L91.61,477.08 L94.02,477.24 L96.43,477.38 L98.84,477.49 L101.25,477.57 L103.66,477.62 L106.07,477.65 L108.48,477.64 L110.90,477.60 L113.31,477.54 L115.72,477.45 L118.13,477.33 L120.54,477.18 L122.95,477.00 L125.36,476.80 L127.77,476.57 L130.18,476.31 L132.59,476.02 L135.00,475.71 L137.42,475.37 L139.83,475.00 L142.24,474.61 L144.65,474.19 L147.06,473.75 L149.47,473.28 L151.88,472.78 L154.29,472.26 L156.70,471.71 L159.11,471.13 L161.52,470.53 L163.94,469.91 L166.35,469.26 L168.76,468.58 L171.17,467.88 L173.58,467.16 L175.99,466.41 L178.40,465.63 L180.81,464.83 L183.22,464.01 L185.63,463.16 L188.04,462.28 L190.45,461.39 L192.87,460.46 L195.28,459.52 L197.69,458.54 L200.10,457.55 L202.51,456.53 L204.92,455.49 L207.33,454.42 L209.74,453.33 L212.15,452.21 L214.56,451.07 L216.97,449.91 L219.39,448.72 L221.80,447.51 L224.21,446.27 L226.62,445.01 L229.03,443.73 L231.44,442.42 L233.85,441.09 L236.26,439.74 L238.67,438.36 L241.08,436.96 L243.49,435.53 L245.91,434.08 L248.32,432.60 L250.73,431.10 L253.14,429.58 L255.55,428.04 L257.96,426.46 L260.37,424.87 L262.78,423.25 L265.19,421.61 L267.60,419.94 L270.01,418.25 L272.42,416.53 L274.84,414.79 L277.25,413.02 L279.66,411.23 L282.07,409.42 L284.48,407.58 L286.89,405.71 L289.30,403.82 L291.71,401.91 L294.12,399.96 L296.53,398.00 L298.94,396.01 L301.36,393.99 L303.77,391.95 L306.18,389.88 L308.59,387.79 L311.00,385.67 L313.41,383.52 L315.82,381.35 L318.23,379.15 L320.64,376.93 L323.05,374.68 L325.46,372.40 L327.88,370.09 L330.29,367.76 L332.70,365.40 L335.11,363.01 L337.52,360.60 L339.93,358.15 L342.34,355.68 L344.75,353.19 L347.16,350.66 L349.57,348.10 L351.98,345.52 L354.39,342.91" fill="none" stroke="#000" stroke-width="1.7"/>
<rect x="52.8" y="286.6" width="315.8" height="220.0" fill="none" stroke="#333333" stroke-width="1.2"/>
<line x1="67.50" y1="506.6" x2="67.50" y2="510.40000000000003" stroke="#333333" stroke-width="1.2"/>
<text x="67.50" y="525.80" text-anchor="middle" font-size="15.8" fill="#474747">0</text>
<line x1="108.48" y1="506.6" x2="108.48" y2="510.40000000000003" stroke="#333333" stroke-width="1.2"/>
<text x="108.48" y="525.80" text-anchor="middle" font-size="15.8" fill="#474747">5</text>
<line x1="149.47" y1="506.6" x2="149.47" y2="510.40000000000003" stroke="#333333" stroke-width="1.2"/>
<text x="149.47" y="525.80" text-anchor="middle" font-size="15.8" fill="#474747">10</text>
<line x1="190.45" y1="506.6" x2="190.45" y2="510.40000000000003" stroke="#333333" stroke-width="1.2"/>
<text x="190.45" y="525.80" text-anchor="middle" font-size="15.8" fill="#474747">15</text>
<line x1="231.44" y1="506.6" x2="231.44" y2="510.40000000000003" stroke="#333333" stroke-width="1.2"/>
<text x="231.44" y="525.80" text-anchor="middle" font-size="15.8" fill="#474747">20</text>
<line x1="272.42" y1="506.6" x2="272.42" y2="510.40000000000003" stroke="#333333" stroke-width="1.2"/>
<text x="272.42" y="525.80" text-anchor="middle" font-size="15.8" fill="#474747">25</text>
<line x1="313.41" y1="506.6" x2="313.41" y2="510.40000000000003" stroke="#333333" stroke-width="1.2"/>
<text x="313.41" y="525.80" text-anchor="middle" font-size="15.8" fill="#474747">30</text>
<line x1="354.39" y1="506.6" x2="354.39" y2="510.40000000000003" stroke="#333333" stroke-width="1.2"/>
<text x="354.39" y="525.80" text-anchor="middle" font-size="15.8" fill="#474747">35</text>
<line x1="49.0" y1="497.00" x2="52.8" y2="497.00" stroke="#333333" stroke-width="1.2"/>
<text x="46.20" y="503.60" text-anchor="end" font-size="15.8" fill="#474747">0</text>
<line x1="49.0" y1="463.49" x2="52.8" y2="463.49" stroke="#333333" stroke-width="1.2"/>
<text x="46.20" y="470.09" text-anchor="end" font-size="15.8" fill="#474747">3</text>
<line x1="49.0" y1="429.98" x2="52.8" y2="429.98" stroke="#333333" stroke-width="1.2"/>
<text x="46.20" y="436.58" text-anchor="end" font-size="15.8" fill="#474747">6</text>
<line x1="49.0" y1="396.47" x2="52.8" y2="396.47" stroke="#333333" stroke-width="1.2"/>
<text x="46.20" y="403.07" text-anchor="end" font-size="15.8" fill="#474747">9</text>
<line x1="49.0" y1="362.96" x2="52.8" y2="362.96" stroke="#333333" stroke-width="1.2"/>
<text x="46.20" y="369.56" text-anchor="end" font-size="15.8" fill="#474747">12</text>
<line x1="49.0" y1="329.45" x2="52.8" y2="329.45" stroke="#333333" stroke-width="1.2"/>
<text x="46.20" y="336.05" text-anchor="end" font-size="15.8" fill="#474747">15</text>
<line x1="49.0" y1="295.94" x2="52.8" y2="295.94" stroke="#333333" stroke-width="1.2"/>
<text x="46.20" y="302.54" text-anchor="end" font-size="15.8" fill="#474747">18</text>
<rect x="434.0" y="286.6" width="315.6" height="220.0" fill="#fff"/>
<line x1="468.70" y1="286.6" x2="468.70" y2="506.6" stroke="#EAEAEA" stroke-width="0.9"/>
<line x1="509.70" y1="286.6" x2="509.70" y2="506.6" stroke="#EAEAEA" stroke-width="0.9"/>
<line x1="550.70" y1="286.6" x2="550.70" y2="506.6" stroke="#EAEAEA" stroke-width="0.9"/>
<line x1="591.70" y1="286.6" x2="591.70" y2="506.6" stroke="#EAEAEA" stroke-width="0.9"/>
<line x1="632.70" y1="286.6" x2="632.70" y2="506.6" stroke="#EAEAEA" stroke-width="0.9"/>
<line x1="673.70" y1="286.6" x2="673.70" y2="506.6" stroke="#EAEAEA" stroke-width="0.9"/>
<line x1="714.70" y1="286.6" x2="714.70" y2="506.6" stroke="#EAEAEA" stroke-width="0.9"/>
<line x1="434.0" y1="480.25" x2="749.6" y2="480.25" stroke="#EAEAEA" stroke-width="0.9"/>
<line x1="434.0" y1="446.74" x2="749.6" y2="446.74" stroke="#EAEAEA" stroke-width="0.9"/>
<line x1="434.0" y1="413.23" x2="749.6" y2="413.23" stroke="#EAEAEA" stroke-width="0.9"/>
<line x1="434.0" y1="379.72" x2="749.6" y2="379.72" stroke="#EAEAEA" stroke-width="0.9"/>
<line x1="434.0" y1="346.21" x2="749.6" y2="346.21" stroke="#EAEAEA" stroke-width="0.9"/>
<line x1="434.0" y1="312.69" x2="749.6" y2="312.69" stroke="#EAEAEA" stroke-width="0.9"/>
<line x1="448.20" y1="286.6" x2="448.20" y2="506.6" stroke="#E6E6E6" stroke-width="1.2"/>
<line x1="489.20" y1="286.6" x2="489.20" y2="506.6" stroke="#E6E6E6" stroke-width="1.2"/>
<line x1="530.20" y1="286.6" x2="530.20" y2="506.6" stroke="#E6E6E6" stroke-width="1.2"/>
<line x1="571.20" y1="286.6" x2="571.20" y2="506.6" stroke="#E6E6E6" stroke-width="1.2"/>
<line x1="612.20" y1="286.6" x2="612.20" y2="506.6" stroke="#E6E6E6" stroke-width="1.2"/>
<line x1="653.20" y1="286.6" x2="653.20" y2="506.6" stroke="#E6E6E6" stroke-width="1.2"/>
<line x1="694.20" y1="286.6" x2="694.20" y2="506.6" stroke="#E6E6E6" stroke-width="1.2"/>
<line x1="735.20" y1="286.6" x2="735.20" y2="506.6" stroke="#E6E6E6" stroke-width="1.2"/>
<line x1="434.0" y1="497.00" x2="749.6" y2="497.00" stroke="#E6E6E6" stroke-width="1.2"/>
<line x1="434.0" y1="463.49" x2="749.6" y2="463.49" stroke="#E6E6E6" stroke-width="1.2"/>
<line x1="434.0" y1="429.98" x2="749.6" y2="429.98" stroke="#E6E6E6" stroke-width="1.2"/>
<line x1="434.0" y1="396.47" x2="749.6" y2="396.47" stroke="#E6E6E6" stroke-width="1.2"/>
<line x1="434.0" y1="362.96" x2="749.6" y2="362.96" stroke="#E6E6E6" stroke-width="1.2"/>
<line x1="434.0" y1="329.45" x2="749.6" y2="329.45" stroke="#E6E6E6" stroke-width="1.2"/>
<line x1="434.0" y1="295.94" x2="749.6" y2="295.94" stroke="#E6E6E6" stroke-width="1.2"/>
<circle cx="505.60" cy="453.00" r="6.6" fill="#B22222" fill-opacity="0.35"/>
<circle cx="505.60" cy="456.00" r="6.6" fill="#B22222" fill-opacity="0.35"/>
<circle cx="505.60" cy="459.00" r="6.6" fill="#B22222" fill-opacity="0.35"/>
<circle cx="505.60" cy="462.00" r="6.6" fill="#B22222" fill-opacity="0.35"/>
<circle cx="505.60" cy="464.50" r="6.6" fill="#B22222" fill-opacity="0.35"/>
<circle cx="505.60" cy="467.00" r="6.6" fill="#B22222" fill-opacity="0.35"/>
<circle cx="505.60" cy="470.30" r="6.6" fill="#B22222" fill-opacity="0.35"/>
<circle cx="530.20" cy="439.20" r="6.6" fill="#B22222" fill-opacity="0.35"/>
<circle cx="530.20" cy="443.30" r="6.6" fill="#B22222" fill-opacity="0.35"/>
<circle cx="530.20" cy="445.70" r="6.6" fill="#B22222" fill-opacity="0.35"/>
<circle cx="530.20" cy="448.00" r="6.6" fill="#B22222" fill-opacity="0.35"/>
<circle cx="530.20" cy="450.00" r="6.6" fill="#B22222" fill-opacity="0.35"/>
<circle cx="530.20" cy="451.80" r="6.6" fill="#B22222" fill-opacity="0.35"/>
<circle cx="530.20" cy="455.00" r="6.6" fill="#B22222" fill-opacity="0.35"/>
<circle cx="530.20" cy="457.40" r="6.6" fill="#B22222" fill-opacity="0.35"/>
<circle cx="530.20" cy="460.30" r="6.6" fill="#B22222" fill-opacity="0.35"/>
<circle cx="554.80" cy="413.20" r="6.6" fill="#B22222" fill-opacity="0.35"/>
<circle cx="554.80" cy="414.00" r="6.6" fill="#B22222" fill-opacity="0.35"/>
<circle cx="554.80" cy="428.60" r="6.6" fill="#B22222" fill-opacity="0.35"/>
<circle cx="554.80" cy="432.40" r="6.6" fill="#B22222" fill-opacity="0.35"/>
<circle cx="554.80" cy="436.00" r="6.6" fill="#B22222" fill-opacity="0.35"/>
<circle cx="554.80" cy="444.50" r="6.6" fill="#B22222" fill-opacity="0.35"/>
<circle cx="554.80" cy="446.50" r="6.6" fill="#B22222" fill-opacity="0.35"/>
<circle cx="554.80" cy="450.50" r="6.6" fill="#B22222" fill-opacity="0.35"/>
<circle cx="579.40" cy="401.60" r="6.6" fill="#B22222" fill-opacity="0.35"/>
<circle cx="579.40" cy="404.50" r="6.6" fill="#B22222" fill-opacity="0.35"/>
<circle cx="579.40" cy="412.80" r="6.6" fill="#B22222" fill-opacity="0.35"/>
<circle cx="604.00" cy="391.00" r="6.6" fill="#B22222" fill-opacity="0.35"/>
<circle cx="604.00" cy="393.30" r="6.6" fill="#B22222" fill-opacity="0.35"/>
<circle cx="604.00" cy="405.60" r="6.6" fill="#B22222" fill-opacity="0.35"/>
<circle cx="604.00" cy="420.50" r="6.6" fill="#B22222" fill-opacity="0.35"/>
<circle cx="604.00" cy="421.50" r="6.6" fill="#B22222" fill-opacity="0.35"/>
<circle cx="628.60" cy="376.40" r="6.6" fill="#B22222" fill-opacity="0.35"/>
<circle cx="628.60" cy="394.90" r="6.6" fill="#B22222" fill-opacity="0.35"/>
<circle cx="628.60" cy="403.00" r="6.6" fill="#B22222" fill-opacity="0.35"/>
<circle cx="628.60" cy="403.70" r="6.6" fill="#B22222" fill-opacity="0.35"/>
<circle cx="628.60" cy="412.80" r="6.6" fill="#B22222" fill-opacity="0.35"/>
<circle cx="628.60" cy="413.20" r="6.6" fill="#B22222" fill-opacity="0.35"/>
<path d="M448.20,471.76 L450.34,471.31 L452.47,470.87 L454.61,470.41 L456.74,469.94 L458.88,469.47 L461.02,468.99 L463.15,468.50 L465.29,468.00 L467.43,467.49 L469.56,466.98 L471.70,466.45 L473.83,465.92 L475.97,465.37 L478.11,464.82 L480.24,464.26 L482.38,463.69 L484.51,463.10 L486.65,462.51 L488.79,461.91 L490.92,461.29 L493.06,460.67 L495.19,460.03 L497.33,459.39 L499.47,458.73 L501.60,458.06 L503.74,457.38 L505.88,456.69 L508.01,455.98 L510.15,455.26 L512.28,454.53 L514.42,453.79 L516.56,453.04 L518.69,452.27 L520.83,451.49 L522.96,450.69 L525.10,449.88 L527.24,449.06 L529.37,448.22 L531.51,447.36 L533.65,446.50 L535.78,445.61 L537.92,444.71 L540.05,443.80 L542.19,442.87 L544.33,441.92 L546.46,440.96 L548.60,439.98 L550.73,438.98 L552.87,437.97 L555.01,436.94 L557.14,435.88 L559.28,434.82 L561.42,433.73 L563.55,432.62 L565.69,431.50 L567.82,430.35 L569.96,429.19 L572.10,428.00 L574.23,426.79 L576.37,425.56 L578.50,424.32 L580.64,423.04 L582.78,421.75 L584.91,420.44 L587.05,419.10 L589.18,417.73 L591.32,416.35 L593.46,414.94 L595.59,413.50 L597.73,412.04 L599.87,410.56 L602.00,409.04 L604.14,407.51 L606.27,405.94 L608.41,404.35 L610.55,402.73 L612.68,401.08 L614.82,399.40 L616.95,397.70 L619.09,395.96 L621.23,394.19 L623.36,392.39 L625.50,390.57 L627.64,388.70 L629.77,386.81 L631.91,384.88 L634.04,382.92 L636.18,380.93 L638.32,378.90 L640.45,376.83 L642.59,374.73 L644.72,372.59 L646.86,370.42 L649.00,368.20 L651.13,365.95 L653.27,363.66 L655.41,361.33 L657.54,358.96 L659.68,356.54 L661.81,354.08 L663.95,351.59 L666.09,349.04 L668.22,346.46 L670.36,343.82 L672.49,341.14 L674.63,338.42 L676.77,335.64 L678.90,332.82 L681.04,329.95 L683.17,327.03 L685.31,324.06 L687.45,321.03 L689.58,317.96 L691.72,314.83 L693.86,311.64 L695.99,308.40 L698.13,305.10 L700.26,301.74 L702.40,298.33" fill="none" stroke="#000" stroke-width="1.7"/>
<path d="M448.20,472.65 L450.34,472.23 L452.47,471.79 L454.61,471.36 L456.74,470.91 L458.88,470.46 L461.02,469.99 L463.15,469.52 L465.29,469.05 L467.43,468.56 L469.56,468.07 L471.70,467.56 L473.83,467.05 L475.97,466.53 L478.11,466.00 L480.24,465.46 L482.38,464.91 L484.51,464.35 L486.65,463.78 L488.79,463.21 L490.92,462.62 L493.06,462.02 L495.19,461.41 L497.33,460.79 L499.47,460.16 L501.60,459.52 L503.74,458.87 L505.88,458.21 L508.01,457.53 L510.15,456.84 L512.28,456.15 L514.42,455.44 L516.56,454.71 L518.69,453.98 L520.83,453.23 L522.96,452.47 L525.10,451.69 L527.24,450.90 L529.37,450.10 L531.51,449.29 L533.65,448.46 L535.78,447.61 L537.92,446.75 L540.05,445.88 L542.19,444.99 L544.33,444.08 L546.46,443.16 L548.60,442.23 L550.73,441.27 L552.87,440.30 L555.01,439.32 L557.14,438.31 L559.28,437.29 L561.42,436.25 L563.55,435.20 L565.69,434.12 L567.82,433.03 L569.96,431.92 L572.10,430.78 L574.23,429.63 L576.37,428.46 L578.50,427.27 L580.64,426.05 L582.78,424.82 L584.91,423.56 L587.05,422.29 L589.18,420.99 L591.32,419.66 L593.46,418.32 L595.59,416.95 L597.73,415.56 L599.87,414.14 L602.00,412.70 L604.14,411.23 L606.27,409.74 L608.41,408.22 L610.55,406.68 L612.68,405.10 L614.82,403.51 L616.95,401.88 L619.09,400.22 L621.23,398.54 L623.36,396.83 L625.50,395.09 L627.64,393.31 L629.77,391.51 L631.91,389.67 L634.04,387.81 L636.18,385.91 L638.32,383.97 L640.45,382.01 L642.59,380.01 L644.72,377.97 L646.86,375.90 L649.00,373.79 L651.13,371.65 L653.27,369.47 L655.41,367.25 L657.54,364.99 L659.68,362.70 L661.81,360.36 L663.95,357.98 L666.09,355.56 L668.22,353.10 L670.36,350.60 L672.49,348.05 L674.63,345.46 L676.77,342.82 L678.90,340.14 L681.04,337.41 L683.17,334.64 L685.31,331.81 L687.45,328.94 L689.58,326.01 L691.72,323.04 L693.86,320.01 L695.99,316.93 L698.13,313.80 L700.26,310.61 L702.40,307.37" fill="none" stroke="#000" stroke-width="1.7"/>
<rect x="434.0" y="286.6" width="315.6" height="220.0" fill="none" stroke="#333333" stroke-width="1.2"/>
<line x1="448.20" y1="506.6" x2="448.20" y2="510.40000000000003" stroke="#333333" stroke-width="1.2"/>
<text x="448.20" y="525.80" text-anchor="middle" font-size="15.8" fill="#474747">0</text>
<line x1="489.20" y1="506.6" x2="489.20" y2="510.40000000000003" stroke="#333333" stroke-width="1.2"/>
<text x="489.20" y="525.80" text-anchor="middle" font-size="15.8" fill="#474747">5</text>
<line x1="530.20" y1="506.6" x2="530.20" y2="510.40000000000003" stroke="#333333" stroke-width="1.2"/>
<text x="530.20" y="525.80" text-anchor="middle" font-size="15.8" fill="#474747">10</text>
<line x1="571.20" y1="506.6" x2="571.20" y2="510.40000000000003" stroke="#333333" stroke-width="1.2"/>
<text x="571.20" y="525.80" text-anchor="middle" font-size="15.8" fill="#474747">15</text>
<line x1="612.20" y1="506.6" x2="612.20" y2="510.40000000000003" stroke="#333333" stroke-width="1.2"/>
<text x="612.20" y="525.80" text-anchor="middle" font-size="15.8" fill="#474747">20</text>
<line x1="653.20" y1="506.6" x2="653.20" y2="510.40000000000003" stroke="#333333" stroke-width="1.2"/>
<text x="653.20" y="525.80" text-anchor="middle" font-size="15.8" fill="#474747">25</text>
<line x1="694.20" y1="506.6" x2="694.20" y2="510.40000000000003" stroke="#333333" stroke-width="1.2"/>
<text x="694.20" y="525.80" text-anchor="middle" font-size="15.8" fill="#474747">30</text>
<line x1="735.20" y1="506.6" x2="735.20" y2="510.40000000000003" stroke="#333333" stroke-width="1.2"/>
<text x="735.20" y="525.80" text-anchor="middle" font-size="15.8" fill="#474747">35</text>
<line x1="430.2" y1="497.00" x2="434.0" y2="497.00" stroke="#333333" stroke-width="1.2"/>
<text x="427.40" y="503.60" text-anchor="end" font-size="15.8" fill="#474747">0</text>
<line x1="430.2" y1="463.49" x2="434.0" y2="463.49" stroke="#333333" stroke-width="1.2"/>
<text x="427.40" y="470.09" text-anchor="end" font-size="15.8" fill="#474747">3</text>
<line x1="430.2" y1="429.98" x2="434.0" y2="429.98" stroke="#333333" stroke-width="1.2"/>
<text x="427.40" y="436.58" text-anchor="end" font-size="15.8" fill="#474747">6</text>
<line x1="430.2" y1="396.47" x2="434.0" y2="396.47" stroke="#333333" stroke-width="1.2"/>
<text x="427.40" y="403.07" text-anchor="end" font-size="15.8" fill="#474747">9</text>
<line x1="430.2" y1="362.96" x2="434.0" y2="362.96" stroke="#333333" stroke-width="1.2"/>
<text x="427.40" y="369.56" text-anchor="end" font-size="15.8" fill="#474747">12</text>
<line x1="430.2" y1="329.45" x2="434.0" y2="329.45" stroke="#333333" stroke-width="1.2"/>
<text x="427.40" y="336.05" text-anchor="end" font-size="15.8" fill="#474747">15</text>
<line x1="430.2" y1="295.94" x2="434.0" y2="295.94" stroke="#333333" stroke-width="1.2"/>
<text x="427.40" y="302.54" text-anchor="end" font-size="15.8" fill="#474747">18</text>
<text x="68.6" y="15.5" font-size="14" font-weight="bold" fill="#000">(a)</text>
<text x="449.2" y="15.5" font-size="14" font-weight="bold" fill="#000">(b)</text>
<text x="58.8" y="301.0" font-size="14" font-weight="bold" fill="#000">(c)</text>
<text x="439.8" y="301.0" font-size="14" font-weight="bold" fill="#000">(d)</text>
<text x="215.85" y="263.6" text-anchor="middle" font-size="19.9" fill="#000">Temperature (<tspan font-size="14.2" dy="-10">o</tspan><tspan dy="10">C)</tspan></text>
<text x="596.90" y="263.6" text-anchor="middle" font-size="19.9" fill="#000">Temperature (<tspan font-size="14.2" dy="-10">o</tspan><tspan dy="10">C)</tspan></text>
<text x="210.70" y="549.0" text-anchor="middle" font-size="19.9" fill="#000">Temperature (<tspan font-size="14.2" dy="-10">o</tspan><tspan dy="10">C)</tspan></text>
<text x="591.80" y="549.0" text-anchor="middle" font-size="19.9" fill="#000">Temperature (<tspan font-size="14.2" dy="-10">o</tspan><tspan dy="10">C)</tspan></text>
<text transform="translate(22.6,111.0) rotate(-90)" text-anchor="middle" font-size="19.9" fill="#000">SMR<tspan dx="5">(O</tspan><tspan font-size="14.2" dy="4">2</tspan><tspan dy="-4">.min</tspan><tspan font-size="14.2" dy="-9.4">−</tspan><tspan font-size="14.2" dy="-0.8">1</tspan><tspan dy="10.2">.g</tspan><tspan font-size="14.2" dy="-9.4">−</tspan><tspan font-size="14.2" dy="-0.8">1</tspan><tspan dy="10.2">)</tspan></text>
<text transform="translate(403.6,111.0) rotate(-90)" text-anchor="middle" font-size="19.9" fill="#000">SMR<tspan dx="5">(O</tspan><tspan font-size="14.2" dy="4">2</tspan><tspan dy="-4">.min</tspan><tspan font-size="14.2" dy="-9.4">−</tspan><tspan font-size="14.2" dy="-0.8">1</tspan><tspan dy="10.2">.g</tspan><tspan font-size="14.2" dy="-9.4">−</tspan><tspan font-size="14.2" dy="-0.8">1</tspan><tspan dy="10.2">)</tspan></text>
<text transform="translate(17.1,396.6) rotate(-90)" text-anchor="middle" font-size="19.9" fill="#000"><tspan font-style="italic">PO</tspan><tspan font-size="14.2" dy="4.5">2crit</tspan></text>
<text transform="translate(398.3,396.6) rotate(-90)" text-anchor="middle" font-size="19.9" fill="#000"><tspan font-style="italic">PO</tspan><tspan font-size="14.2" dy="4.5">2crit</tspan></text>
<text x="249.0" y="82.2" font-size="14" fill="#000">15g</text>
<text x="276.6" y="135.6" font-size="14" fill="#000">150g</text>
<text x="628.8" y="84.8" font-size="14" fill="#000">25g</text>
<text x="652.6" y="131.0" font-size="14" fill="#000">50g</text>
<text x="240.9" y="395.6" font-size="14" fill="#000">150g</text>
<text x="278.0" y="429.2" font-size="14" fill="#000">15g</text>
<text x="621.3" y="357.2" font-size="14" fill="#000">50g</text>
<text x="657.8" y="379.2" font-size="14" fill="#000">25g</text>
</svg>
</body></html>
